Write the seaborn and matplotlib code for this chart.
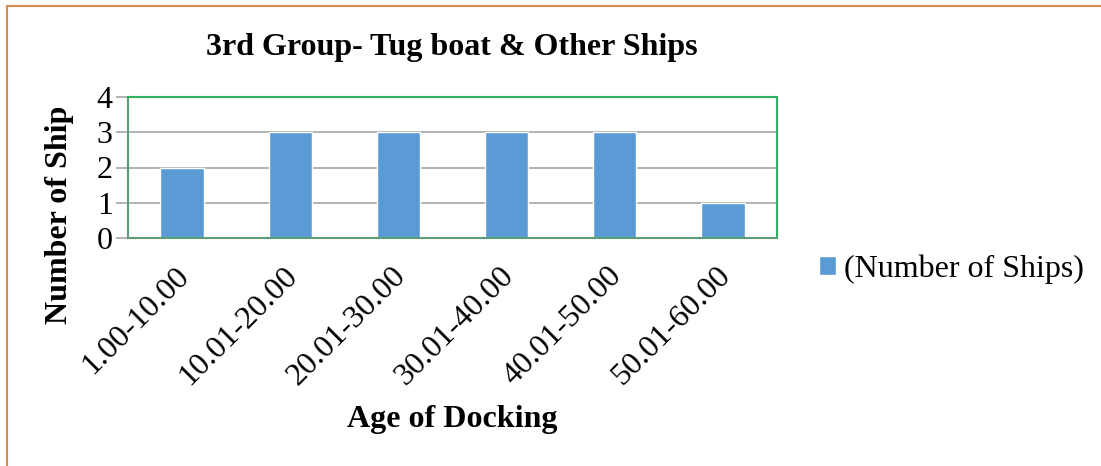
import matplotlib
matplotlib.use("Agg")
import matplotlib.pyplot as plt
import matplotlib.transforms as mtransforms
from matplotlib.lines import Line2D
from matplotlib.patches import Patch
import pandas as pd
import seaborn as sns

# data
age_ranges = ["1.00-10.00", "10.01-20.00", "20.01-30.00",
              "30.01-40.00", "40.01-50.00", "50.01-60.00"]
ship_counts = [2, 3, 3, 3, 3, 1]
series_name = "(Number of Ships)"

df = pd.DataFrame({"age": age_ranges, "count": ship_counts})

sns.set_style("white")
plt.rcParams["font.family"] = ["Liberation Serif", "DejaVu Serif"]
plt.rcParams["text.color"] = "black"
plt.rcParams["axes.labelcolor"] = "black"

W, H = 1101, 466
fig = plt.figure(figsize=(W / 100, H / 100), dpi=100)
ax = fig.add_axes([128 / W, 1 - 238 / H, 649 / W, 141 / H])

bar_color = "#5B9BD5"
sns.barplot(data=df, x="age", y="count", color=bar_color, width=0.4,
            saturation=1, ax=ax, zorder=3)

ax.set_ylim(0, 4)
ax.set_yticks([0, 1, 2, 3, 4])
ax.set_xlim(-0.5, len(age_ranges) - 0.5)
ax.yaxis.grid(True, color="#A6A6A6", linewidth=1.2, zorder=0)
ax.set_axisbelow(True)

# spines: green frame
for side in ["top", "right"]:
    ax.spines[side].set_color("#2EB35F")
    ax.spines[side].set_linewidth(1.5)
for side in ["left", "bottom"]:
    ax.spines[side].set_color("#5C9C78")
    ax.spines[side].set_linewidth(1.5)
ax.spines["bottom"].set_zorder(4)

ax.tick_params(axis="y", which="both", left=True, length=9, width=1.2,
               color="#A6A6A6", labelcolor="black", labelsize=23, pad=2)
ax.tick_params(axis="x", bottom=False, labelsize=23, labelcolor="black", pad=0)

# rotated category labels, right end just below each category centre
shift = mtransforms.ScaledTranslation(3 / 100, -29 / 100, fig.dpi_scale_trans)
for lab in ax.get_xticklabels():
    lab.set_rotation(45)
    lab.set_ha("right")
    lab.set_va("center")
    lab.set_rotation_mode("anchor")
    lab.set_transform(lab.get_transform() + shift)

ax.set_xlabel("Age of Docking", fontsize=23, fontweight="bold")
ax.set_ylabel("Number of Ship", fontsize=23, fontweight="bold")
ax.yaxis.set_label_coords((60 - 128) / 649, (238 - 215) / 141)
ax.xaxis.set_label_coords(0.5, -(420 - 238) / 141)
ax.xaxis.label.set_va("center")
ax.yaxis.label.set_va("center")

fig.text(452 / W, 1 - 47 / H, "3rd Group- Tug boat & Other Ships",
         fontsize=23, fontweight="bold", ha="center", va="center")

fig.legend(handles=[Patch(facecolor=bar_color, label=series_name)],
           loc="center left", bbox_to_anchor=(819 / W, 1 - 269 / H),
           frameon=False, fontsize=23, handlelength=0.52, handleheight=0.52,
           handletextpad=0.25, borderaxespad=0, borderpad=0)

# outer chart-area border (left and top only visible)
border = "#D9894F"
fig.add_artist(Line2D([7 / W, 7 / W], [0, 1 - 6 / H],
                      color=border, linewidth=1.5))
fig.add_artist(Line2D([7 / W, 1], [1 - 6 / H, 1 - 6 / H],
                      color=border, linewidth=1.5))

fig.savefig("out.png", dpi=100)
